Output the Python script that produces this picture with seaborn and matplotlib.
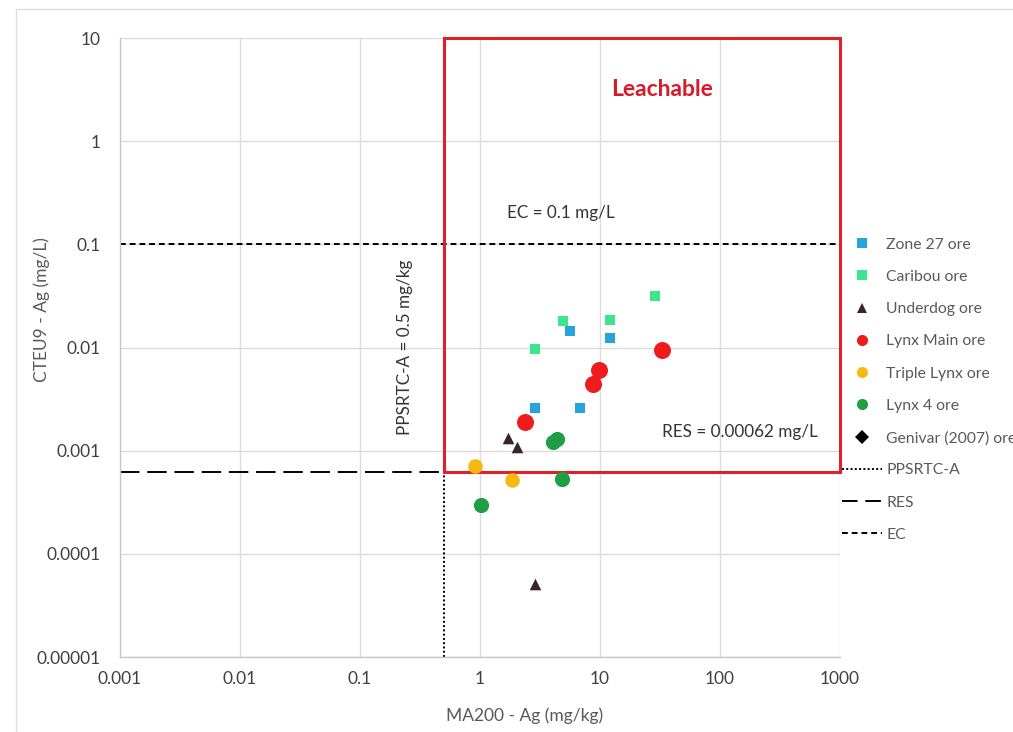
import matplotlib
matplotlib.use("Agg")
import matplotlib.pyplot as plt
from matplotlib.lines import Line2D
from matplotlib.patches import Rectangle
from matplotlib.ticker import FixedLocator, FixedFormatter, NullLocator
import seaborn as sns

# ---- data: MA200 - Ag (mg/kg) vs CTEU9 - Ag (mg/L) ----
zone27_x = [5.6, 12.1, 2.9, 6.8]
zone27_y = [0.0146, 0.0125, 0.0026, 0.0026]

caribou_x = [28.7, 4.9, 12.1, 2.87]
caribou_y = [0.0313, 0.0179, 0.0183, 0.0096]

underdog_x = [1.71, 2.03, 2.87]
underdog_y = [0.00134, 0.00109, 0.000051]

lynx_main_x = [32.9, 9.8, 8.7, 2.37]
lynx_main_y = [0.0094, 0.0061, 0.00447, 0.0019]

triple_lynx_x = [0.91, 1.85]
triple_lynx_y = [0.000715, 0.00052]

lynx4_x = [4.06, 4.38, 4.82, 1.02]
lynx4_y = [0.0012, 0.00131, 0.000535, 0.0003]

genivar_x = []
genivar_y = []

# criteria
ec_limit = 0.1          # mg/L
res_limit = 0.00062     # mg/L
ppsrtc_limit = 0.5      # mg/kg

x_ticks = [0.001, 0.01, 0.1, 1, 10, 100, 1000]
x_labels = ["0.001", "0.01", "0.1", "1", "10", "100", "1000"]
y_ticks = [0.00001, 0.0001, 0.001, 0.01, 0.1, 1, 10]
y_labels = ["0.00001", "0.0001", "0.001", "0.01", "0.1", "1", "10"]

sns.set_theme(style="white")
plt.rcParams["font.family"] = ["Lato", "DejaVu Sans"]

W, H = 1013, 732
fig = plt.figure(figsize=(W / 100, H / 100), dpi=100)
ax = fig.add_axes([120 / W, 1 - 657 / H, 720 / W, 619 / H])
ax.set_xscale("log")
ax.set_yscale("log")
ax.set_xlim(0.001, 1000)
ax.set_ylim(0.00001, 10)

# series styling
series = [
    ("Zone 27 ore", zone27_x, zone27_y, "s", "#27a3de", 42),
    ("Caribou ore", caribou_x, caribou_y, "s", "#3ce68a", 42),
    ("Underdog ore", underdog_x, underdog_y, "^", "#3a2230", 70),
    ("Lynx Main ore", lynx_main_x, lynx_main_y, "o", "#ee1c1c", 150),
    ("Triple Lynx ore", triple_lynx_x, triple_lynx_y, "o", "#f7b90f", 110),
    ("Lynx 4 ore", lynx4_x, lynx4_y, "o", "#1f9e45", 120),
    ("Genivar (2007) ore", genivar_x, genivar_y, "D", "#000000", 40),
]

# criteria lines
ax.axvline(ppsrtc_limit, color="black", lw=1.4, ls=(0, (1, 1.2)), zorder=2)
ax.hlines(res_limit, 0.001, ppsrtc_limit, color="black", lw=1.4,
          ls=(0, (10, 4)), zorder=2)
ax.axhline(ec_limit, color="black", lw=1.4, ls=(0, (3, 2)), zorder=2)

for name, xs, ys, mk, col, size in series:
    if xs:
        sns.scatterplot(x=xs, y=ys, ax=ax, marker=mk, color=col, s=size,
                        linewidth=0, legend=False, zorder=4)

# leachable zone
ax.add_patch(Rectangle((ppsrtc_limit, res_limit), 1000 - ppsrtc_limit,
                       10 - res_limit, fill=False, edgecolor="#e0202a",
                       lw=2.2, zorder=3, clip_on=False))

# axes styling
ax.xaxis.set_major_locator(FixedLocator(x_ticks))
ax.xaxis.set_major_formatter(FixedFormatter(x_labels))
ax.yaxis.set_major_locator(FixedLocator(y_ticks))
ax.yaxis.set_major_formatter(FixedFormatter(y_labels))
ax.xaxis.set_minor_locator(NullLocator())
ax.yaxis.set_minor_locator(NullLocator())
ax.grid(True, which="major", color="#dcdcdc", lw=1)
ax.tick_params(axis="both", length=0, labelsize=12.5, labelcolor="#404040")
ax.tick_params(axis="y", pad=14)
ax.tick_params(axis="x", pad=10)
for side in ["top", "right"]:
    ax.spines[side].set_visible(False)
for side in ["left", "bottom"]:
    ax.spines[side].set_color("#c8c8c8")
    ax.spines[side].set_linewidth(1)

# annotations
fig.text(662 / W, 1 - 90 / H, "Leachable", color="#d7192a", fontsize=16.5,
         fontweight="bold", ha="center", va="center")
fig.text(561 / W, 1 - 213 / H, "EC = 0.1 mg/L", color="#333333", fontsize=12.3,
         ha="center", va="center")
fig.text(740 / W, 1 - 432 / H, "RES = 0.00062 mg/L", color="#333333",
         fontsize=12.3, ha="center", va="center")
fig.text(405 / W, 1 - 347 / H, "PPSRTC-A = 0.5 mg/kg", color="#333333",
         fontsize=12.3, ha="center", va="center", rotation=90)
fig.text(525 / W, 1 - 716 / H, "MA200 - Ag (mg/kg)", color="#595959",
         fontsize=12.5, ha="center", va="center")
fig.text(42 / W, 1 - 310 / H, "CTEU9 - Ag (mg/L)", color="#595959",
         fontsize=12.5, ha="center", va="center", rotation=90)

# legend (placed against the right edge; the last marker label runs off it)
handles = []
labels = []
for name, xs, ys, mk, col, size in series:
    handles.append(Line2D([], [], ls="none", marker=mk, color=col,
                          markersize=7 if mk != "o" else 8, markeredgewidth=0))
    labels.append(name)
handles += [
    Line2D([], [], color="black", lw=1.4, ls=(0, (1, 1.2))),
    Line2D([], [], color="black", lw=1.4, ls=(0, (8, 4))),
    Line2D([], [], color="black", lw=1.4, ls=(0, (3, 2))),
]
labels += ["PPSRTC-A", "RES", "EC"]
leg = fig.legend(handles, labels, loc="upper left",
                 bbox_to_anchor=(837 / W, 1 - 233 / H), frameon=False,
                 fontsize=11.3, handlelength=2.55, handletextpad=0.3,
                 labelspacing=1.16, borderaxespad=0, borderpad=0.3)
for t in leg.get_texts():
    t.set_color("#595959")

# outer frame of the chart area
fig.patches.append(Rectangle((16 / W, -0.1), 1.2, 1 + 0.1 - 9 / H,
                             transform=fig.transFigure, fill=False,
                             edgecolor="#dedede", lw=1))

fig.savefig("out.png", dpi=100, facecolor="white")
